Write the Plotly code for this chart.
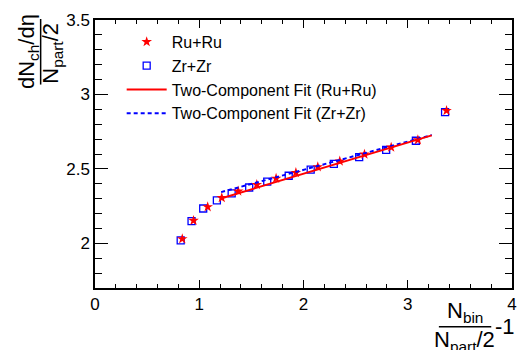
import plotly.graph_objects as go

# Zr+Zr: (N_bin/(N_part/2) - 1, dN_ch/deta / (N_part/2))
zr_x = [0.822, 0.926, 1.038, 1.169, 1.311, 1.479, 1.652, 1.858, 2.069, 2.291, 2.534, 2.793, 3.078, 3.358]
zr_y = [2.020, 2.149, 2.234, 2.289, 2.335, 2.375, 2.414, 2.454, 2.495, 2.534, 2.579, 2.628, 2.689, 2.881]

# Ru+Ru
ru_x = [0.837, 0.945, 1.081, 1.216, 1.374, 1.552, 1.737, 1.927, 2.137, 2.348, 2.585, 2.841, 3.097, 3.372]
ru_y = [2.030, 2.153, 2.245, 2.306, 2.350, 2.394, 2.436, 2.475, 2.513, 2.552, 2.598, 2.645, 2.695, 2.891]

# Two-component fits (linear in the x variable) over the fitted range
fit_ru_x = [1.20, 3.23]
fit_ru_y = [2.300, 2.725]
fit_zr_x = [1.21, 3.23]
fit_zr_y = [2.344, 2.727]

x_range = [0, 4]
y_range = [1.7, 3.5]

FONT = "Liberation Sans, Arial, Helvetica, sans-serif"
W, H = 528, 350
ML, MR, MT, MB = 95, 11, 14, 62
PW, PH = W - ML - MR, H - MT - MB


def px_x(p):
    return (p - ML) / PW


def px_y(p):
    return (H - MB - p) / PH


fig = go.Figure()

fig.add_trace(go.Scatter(
    x=zr_x, y=zr_y, mode="markers", name="Zr+Zr", legendrank=2,
    marker=dict(symbol="square-open", size=7, color="#0000ff", line=dict(width=1.3, color="#0000ff")),
))
fig.add_trace(go.Scatter(
    x=ru_x, y=ru_y, mode="markers", name="Ru+Ru", legendrank=1,
    marker=dict(symbol="star", size=8, color="#ff0000", line=dict(width=0)),
))
fig.add_trace(go.Scatter(
    x=fit_zr_x, y=fit_zr_y, mode="lines", name="Two-Component Fit (Zr+Zr)", legendrank=4,
    line=dict(color="#0000ff", width=2, dash="4px,3px"),
))
fig.add_trace(go.Scatter(
    x=fit_ru_x, y=fit_ru_y, mode="lines", name="Two-Component Fit (Ru+Ru)", legendrank=3,
    line=dict(color="#ff0000", width=2),
))

axis_common = dict(
    showgrid=False, zeroline=False, showline=True, linecolor="black", linewidth=1.5,
    mirror="allticks", ticks="inside", tickcolor="black", tickwidth=1,
    tickfont=dict(family=FONT, size=17, color="black"),
)

fig.update_xaxes(
    range=x_range, tickmode="linear", tick0=0, dtick=1, ticklen=8,
    minor=dict(ticks="inside", dtick=0.2, ticklen=4, tickcolor="black", showgrid=False),
    **axis_common,
)
fig.update_yaxes(
    range=y_range, tickmode="linear", tick0=2, dtick=0.5, ticklen=13,
    minor=dict(ticks="inside", dtick=0.1, ticklen=7, tickcolor="black", showgrid=False),
    **axis_common,
)

title_font = dict(family=FONT, size=22, color="black")
annotations = [
    # y-axis title as a stacked fraction
    dict(text="dN<sub>ch</sub>/dη", x=px_x(28), y=px_y(46), textangle=-90),
    dict(text="N<sub>part</sub>/2", x=px_x(52), y=px_y(48), textangle=-90),
    # x-axis title as a stacked fraction followed by "-1"
    dict(text="N<sub>bin</sub>", x=px_x(469), y=px_y(313)),
    dict(text="N<sub>part</sub>/2", x=px_x(469), y=px_y(342)),
    dict(text="-1", x=px_x(510), y=px_y(327)),
]
for a in annotations:
    a.update(xref="paper", yref="paper", showarrow=False, font=title_font,
             xanchor="center", yanchor="middle")

shapes = [
    dict(type="line", xref="paper", yref="paper", x0=px_x(40), x1=px_x(40),
         y0=px_y(13), y1=px_y(80), line=dict(color="black", width=1.5)),
    dict(type="line", xref="paper", yref="paper", x0=px_x(443), x1=px_x(496),
         y0=px_y(327.5), y1=px_y(327.5), line=dict(color="black", width=1.5)),
]

fig.update_layout(
    width=W, height=H,
    margin=dict(l=ML, r=MR, t=MT, b=MB, pad=0),
    paper_bgcolor="white", plot_bgcolor="white",
    font=dict(family=FONT, color="black"),
    annotations=annotations, shapes=shapes,
    showlegend=True,
    legend=dict(
        x=px_x(122), y=px_y(19), xanchor="left", yanchor="top",
        bgcolor="rgba(0,0,0,0)", borderwidth=0,
        font=dict(family=FONT, size=16, color="black"),
        tracegroupgap=0, itemwidth=40,
    ),
)

fig.write_html("out.html")
